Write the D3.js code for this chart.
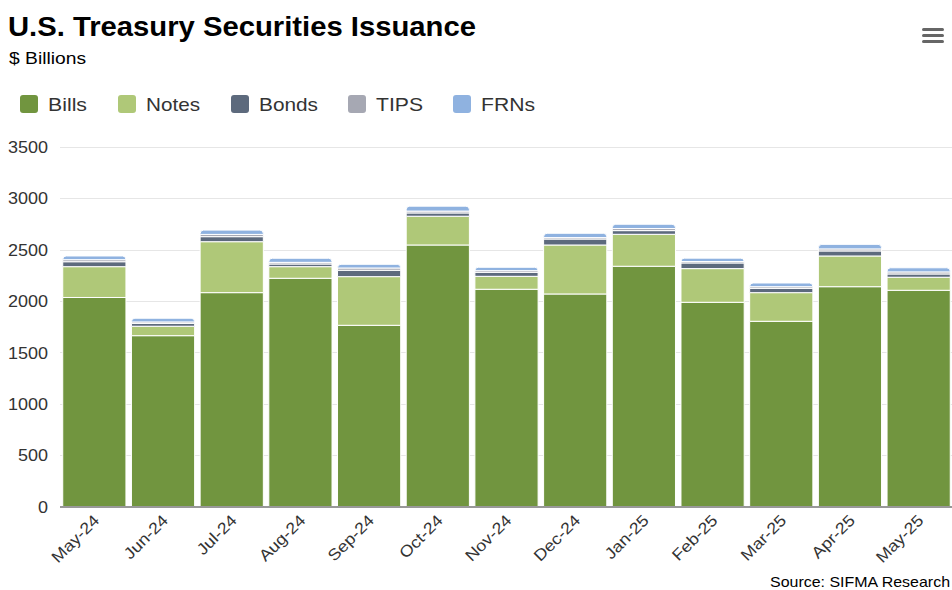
<!DOCTYPE html>
<html>
<head>
<meta charset="utf-8">
<script src="https://cdn.jsdelivr.net/npm/d3@7/dist/d3.min.js"></script>
<style>
  html, body { margin: 0; padding: 0; background: #fff; }
  svg { display: block; font-family: "Liberation Sans", Arial, sans-serif; }
</style>
</head>
<body>
<svg id="chart" width="952" height="590"></svg>
<script>
// ---- data ----
const categories = ["May-24","Jun-24","Jul-24","Aug-24","Sep-24","Oct-24","Nov-24","Dec-24","Jan-25","Feb-25","Mar-25","Apr-25","May-25"];
const bills  = [2035, 1663, 2082, 2222, 1764, 2546, 2115, 2069, 2339, 1988, 1803, 2140, 2105];
const notes  = [ 300,   92,  496,  113,  474,  280,  126,  477,  311,  328,  279,  299,  127];
const bonds  = [  48,   28,   49,   26,   62,   32,   39,   58,   36,   55,   42,   49,   32];
const tips   = [  20,   14,   22,   16,   22,   18,   16,   14,   20,   14,   16,   20,   20];
const frns   = [  36,   36,   42,   40,   36,   48,   33,   42,   42,   33,   36,   44,   40];
const seriesNames  = ["Bills", "Notes", "Bonds", "TIPS", "FRNs"];
const seriesColors = ["#71953f", "#afc878", "#5d6a7d", "#a6a8b3", "#8fb2e0"];
const yTicks = [0, 500, 1000, 1500, 2000, 2500, 3000, 3500];

const seriesValues = [bills, notes, bonds, tips, frns];
const rows = categories.map((c, i) => {
  const r = { cat: c };
  seriesNames.forEach((s, j) => r[s] = seriesValues[j][i]);
  return r;
});

const svg = d3.select("#chart");
const W = 952, H = 590;
const m = { left: 60, right: -1, top: 147, bottom: 506.5 };

const x = d3.scaleBand().domain(categories).range([m.left, W - m.right])
  .paddingInner(0.08).paddingOuter(0.04);
const y = d3.scaleLinear().domain([0, 3500]).range([m.bottom, m.top]);

// title
svg.append("text").attr("x", 8).attr("y", 36)
  .attr("font-size", 27).attr("font-weight", "bold").attr("fill", "#000")
  .attr("textLength", 468).attr("lengthAdjust", "spacingAndGlyphs")
  .text("U.S. Treasury Securities Issuance");
svg.append("text").attr("x", 9).attr("y", 64)
  .attr("font-size", 16).attr("fill", "#000")
  .attr("textLength", 77).attr("lengthAdjust", "spacingAndGlyphs")
  .text("$ Billions");

// menu icon
const menu = svg.append("g").attr("transform", "translate(922,28)");
[0, 6, 12].forEach(dy => menu.append("rect").attr("x", 0).attr("y", dy)
  .attr("width", 22).attr("height", 3).attr("rx", 1.5).attr("fill", "#666"));

// legend
const legendX = [20, 118, 231, 348, 453];
const legendLen = [39, 54, 59, 47, 54];
const lg = svg.append("g");
seriesNames.forEach((s, i) => {
  const g = lg.append("g").attr("transform", `translate(${legendX[i]},95)`);
  g.append("rect").attr("width", 18).attr("height", 18).attr("rx", 3)
    .attr("fill", seriesColors[i]);
  g.append("text").attr("x", 28).attr("y", 16).attr("font-size", 19)
    .attr("fill", "#333")
    .attr("textLength", legendLen[i]).attr("lengthAdjust", "spacingAndGlyphs")
    .text(s);
});

// gridlines
svg.append("g").selectAll("line").data(yTicks.filter(t => t > 0)).join("line")
  .attr("x1", m.left).attr("x2", W).attr("y1", d => Math.round(y(d)) + 0.5)
  .attr("y2", d => Math.round(y(d)) + 0.5)
  .attr("stroke", "#e6e6e6").attr("stroke-width", 1);

// y axis labels
const yAxis = d3.axisLeft(y).tickValues(yTicks).tickFormat(d3.format("d")).tickSize(0).tickPadding(0);
const yg = svg.append("g").attr("transform", `translate(48,0)`).call(yAxis);
yg.select(".domain").remove();
yg.selectAll("text").attr("font-size", 16).attr("fill", "#333")
  .attr("font-family", "Liberation Sans, Arial, sans-serif").attr("dy", "0.35em")
  .attr("textLength", d => String(d).length * 10).attr("lengthAdjust", "spacingAndGlyphs");

// stacked bars
const stack = d3.stack().keys(seriesNames)(rows);
const r = 3.5;
function topRounded(x0, y0, w, h, rad) {
  rad = Math.min(rad, h, w / 2);
  return `M${x0},${y0 + h}V${y0 + rad}Q${x0},${y0} ${x0 + rad},${y0}H${x0 + w - rad}Q${x0 + w},${y0} ${x0 + w},${y0 + rad}V${y0 + h}Z`;
}
stack.forEach((layer, li) => {
  const isTop = li === stack.length - 1;
  svg.append("g").selectAll("path").data(layer).join("path")
    .attr("d", d => {
      const x0 = x(d.data.cat), w = x.bandwidth();
      const y0 = y(d[1]), h = y(d[0]) - y(d[1]);
      return isTop ? topRounded(x0, y0, w, h, r) : `M${x0},${y0}h${w}v${h}h${-w}Z`;
    })
    .attr("fill", seriesColors[li])
    .attr("stroke", "#fff").attr("stroke-width", 1);
});

// x axis
const xAxis = d3.axisBottom(x).tickSize(0).tickPadding(0);
const xg = svg.append("g").attr("transform", `translate(0,${m.bottom})`).call(xAxis);
xg.select(".domain").attr("d", `M${m.left},0.5H${W}`).attr("stroke", "#333").attr("stroke-width", 1);
xg.selectAll("text")
  .attr("font-size", 16).attr("fill", "#333")
  .attr("font-family", "Liberation Sans, Arial, sans-serif")
  .attr("text-anchor", "end").attr("dy", null).attr("y", 0)
  .attr("transform", "translate(6,15) rotate(-45)")
  .each(function () {
    const len = this.getComputedTextLength();
    d3.select(this).attr("textLength", len * 1.12).attr("lengthAdjust", "spacingAndGlyphs");
  });

// source
svg.append("text").attr("x", 950).attr("y", 587).attr("text-anchor", "end")
  .attr("font-size", 15).attr("fill", "#000")
  .attr("textLength", 180).attr("lengthAdjust", "spacingAndGlyphs")
  .text("Source: SIFMA Research");
</script>
</body>
</html>
